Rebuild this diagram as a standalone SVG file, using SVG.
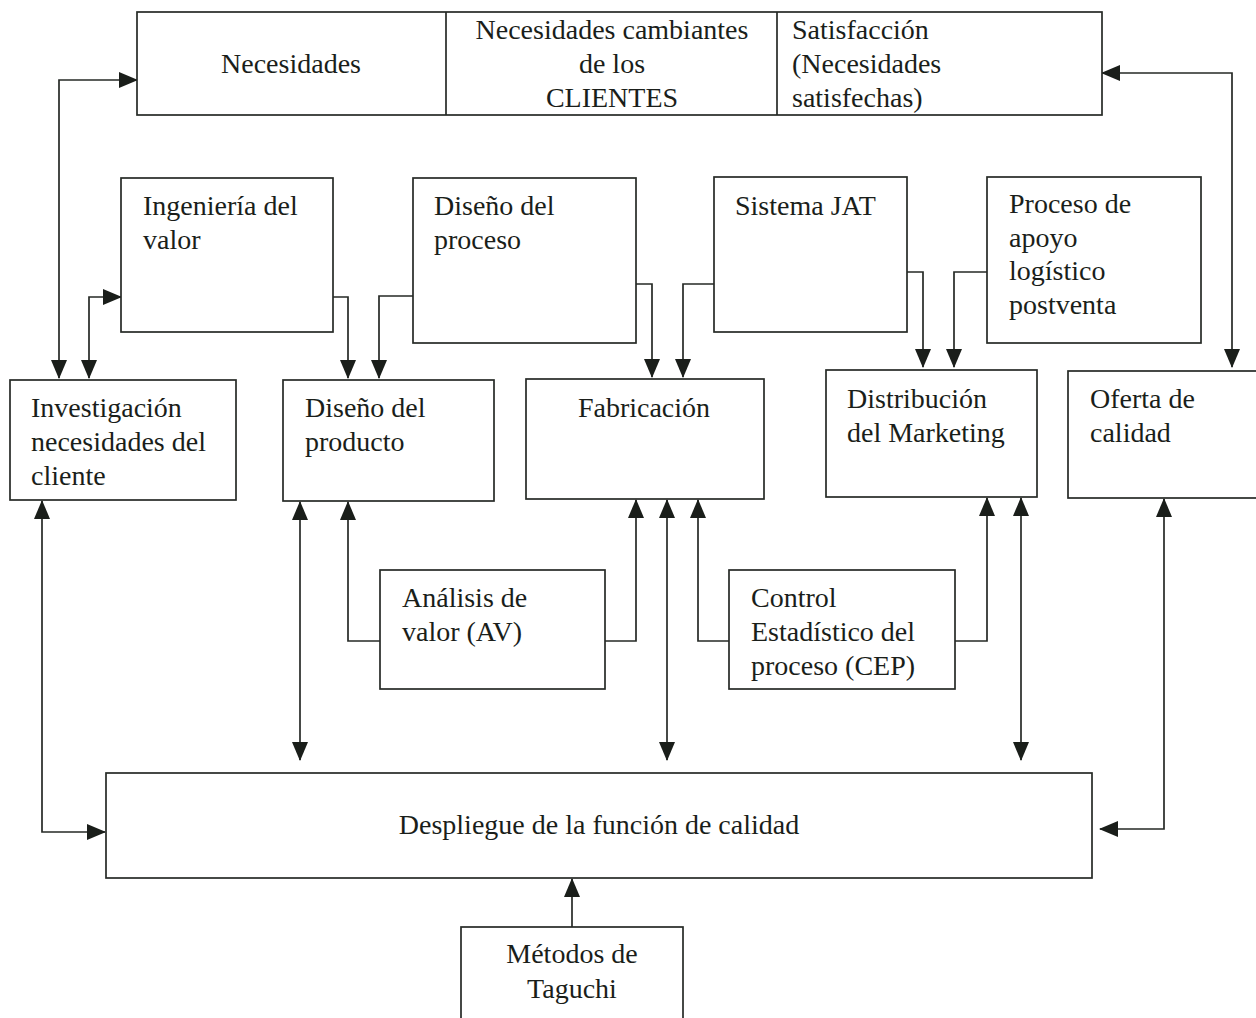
<svg xmlns="http://www.w3.org/2000/svg" width="1256" height="1018" viewBox="0 0 1256 1018">
  <defs>
    <style>
      .box { fill: #ffffff; stroke: #262a26; stroke-width: 1.7; }
      .lbl { font-family: "Liberation Serif", "Times New Roman", serif; font-size: 28px; fill: #1a1e1a; }
      .mid { text-anchor: middle; }
      .wire { fill: none; stroke: #262a26; stroke-width: 1.7; }
      .one { marker-end: url(#head); }
      .two { marker-start: url(#head); marker-end: url(#head); }
    </style>
    <marker id="head" markerUnits="userSpaceOnUse" markerWidth="19" markerHeight="16" refX="18" refY="8" orient="auto-start-reverse">
      <path d="M0,0 L19,8 L0,16 Z" fill="#1a1e1a"/>
    </marker>
  </defs>
  <rect width="1256" height="1018" fill="#ffffff"/>

  <!-- connectors -->
  <g id="connectors">
    <path class="wire two" d="M137,80 H59 V378"/>
    <path class="wire two" d="M121,297 H89 V378"/>
    <path class="wire one" d="M333,297 H348 V378"/>
    <path class="wire one" d="M413,296 H379 V378"/>
    <path class="wire one" d="M636,284 H652 V377"/>
    <path class="wire one" d="M714,284 H683 V377"/>
    <path class="wire one" d="M907,272 H923 V367"/>
    <path class="wire one" d="M987,272 H954 V367"/>
    <path class="wire two" d="M1102,73 H1232 V367"/>
    <path class="wire two" d="M42,501 V832 H105"/>
    <path class="wire two" d="M300,502 V760"/>
    <path class="wire one" d="M380,641 H348 V502"/>
    <path class="wire one" d="M605,641 H636 V500"/>
    <path class="wire two" d="M667,500 V760"/>
    <path class="wire one" d="M729,641 H698 V500"/>
    <path class="wire one" d="M955,641 H987 V498"/>
    <path class="wire two" d="M1021,498 V760"/>
    <path class="wire two" d="M1164,499 V829 H1100"/>
    <path class="wire one" d="M572,927 V879"/>
  </g>

  <!-- customer needs banner -->
  <g id="clientes">
    <rect class="box" x="137" y="12" width="965" height="103"/>
    <line class="wire" x1="446" y1="12" x2="446" y2="115"/>
    <line class="wire" x1="777" y1="12" x2="777" y2="115"/>
    <text class="lbl mid" x="291" y="73">Necesidades</text>
    <text class="lbl mid" x="612" y="39">Necesidades cambiantes</text>
    <text class="lbl mid" x="612" y="73">de los</text>
    <text class="lbl mid" x="612" y="107">CLIENTES</text>
    <text class="lbl" x="792" y="39">Satisfacción</text>
    <text class="lbl" x="792" y="73">(Necesidades</text>
    <text class="lbl" x="792" y="107">satisfechas)</text>
  </g>

  <g id="ingenieria">
    <rect class="box" x="121" y="178" width="212" height="154"/>
    <text class="lbl" x="143" y="215">Ingeniería del</text>
    <text class="lbl" x="143" y="249">valor</text>
  </g>

  <g id="diseno-proceso">
    <rect class="box" x="413" y="178" width="223" height="165"/>
    <text class="lbl" x="434" y="215">Diseño del</text>
    <text class="lbl" x="434" y="249">proceso</text>
  </g>

  <g id="jat">
    <rect class="box" x="714" y="177" width="193" height="155"/>
    <text class="lbl" x="735" y="215">Sistema JAT</text>
  </g>

  <g id="apoyo">
    <rect class="box" x="987" y="177" width="214" height="166"/>
    <text class="lbl" x="1009" y="213">Proceso de</text>
    <text class="lbl" x="1009" y="247">apoyo</text>
    <text class="lbl" x="1009" y="280">logístico</text>
    <text class="lbl" x="1009" y="314">postventa</text>
  </g>

  <g id="investigacion">
    <rect class="box" x="10" y="380" width="226" height="120"/>
    <text class="lbl" x="31" y="417">Investigación</text>
    <text class="lbl" x="31" y="451">necesidades del</text>
    <text class="lbl" x="31" y="485">cliente</text>
  </g>

  <g id="diseno-producto">
    <rect class="box" x="283" y="380" width="211" height="121"/>
    <text class="lbl" x="305" y="417">Diseño del</text>
    <text class="lbl" x="305" y="451">producto</text>
  </g>

  <g id="fabricacion">
    <rect class="box" x="526" y="379" width="238" height="120"/>
    <text class="lbl mid" x="644" y="417">Fabricación</text>
  </g>

  <g id="distribucion">
    <rect class="box" x="826" y="370" width="211" height="127"/>
    <text class="lbl" x="847" y="408">Distribución</text>
    <text class="lbl" x="847" y="442">del Marketing</text>
  </g>

  <g id="oferta">
    <rect class="box" x="1068" y="371" width="200" height="127"/>
    <text class="lbl" x="1090" y="408">Oferta de</text>
    <text class="lbl" x="1090" y="442">calidad</text>
  </g>

  <g id="analisis">
    <rect class="box" x="380" y="570" width="225" height="119"/>
    <text class="lbl" x="402" y="607">Análisis de</text>
    <text class="lbl" x="402" y="641">valor (AV)</text>
  </g>

  <g id="cep">
    <rect class="box" x="729" y="570" width="226" height="119"/>
    <text class="lbl" x="751" y="607">Control</text>
    <text class="lbl" x="751" y="641">Estadístico del</text>
    <text class="lbl" x="751" y="675">proceso (CEP)</text>
  </g>

  <g id="despliegue">
    <rect class="box" x="106" y="773" width="986" height="105"/>
    <text class="lbl mid" x="599" y="834">Despliegue de la función de calidad</text>
  </g>

  <g id="taguchi">
    <rect class="box" x="461" y="927" width="222" height="100"/>
    <text class="lbl mid" x="572" y="963">Métodos de</text>
    <text class="lbl mid" x="572" y="998">Taguchi</text>
  </g>
</svg>
